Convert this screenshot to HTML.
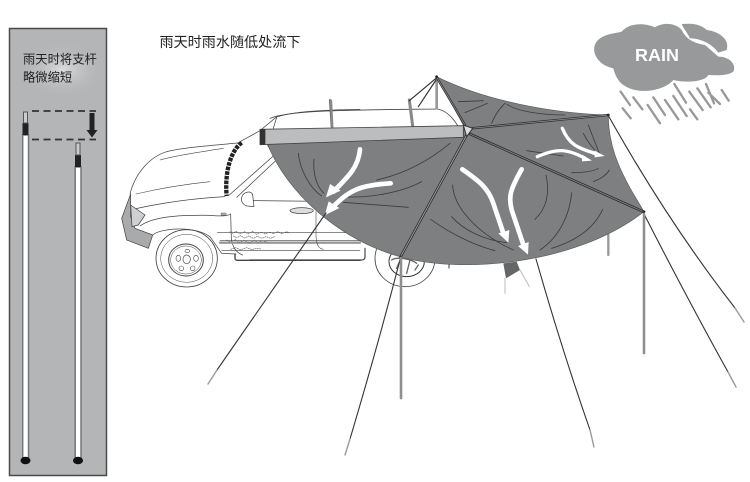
<!DOCTYPE html>
<html><head><meta charset="utf-8"><style>
html,body{margin:0;padding:0;background:#fff;width:750px;height:482px;overflow:hidden}
svg{display:block}
text{font-family:"Liberation Sans","Noto Sans CJK SC",sans-serif}
</style></head><body>
<svg width="750" height="482" viewBox="0 0 750 482" xmlns="http://www.w3.org/2000/svg">
<defs>
<radialGradient id="gl" cx="50%" cy="50%" r="50%"><stop offset="0" stop-color="#dcddde"/><stop offset="1" stop-color="#b4b5b7" stop-opacity="0"/></radialGradient>
</defs>
<!-- left panel -->
<rect x="9.500" y="28.500" width="97" height="447" fill="#b4b5b7" stroke="#4a4a4c" stroke-width="1.500"/>
<ellipse cx="62" cy="70" rx="44" ry="28" fill="url(#gl)"/>
<text x="23" y="63.500" font-size="12.300" fill="#222">雨天时将支杆</text>
<text x="23" y="81.500" font-size="12.300" fill="#222">略微缩短</text>
<path d="M32 111H96M32 139.500H96" stroke="#333" stroke-width="1.700" stroke-dasharray="7 4.500" fill="none"/>
<path d="M89.500 113h5v17h3l-5.500 7.500-5.500-7.500h3z" fill="#222"/>
<!-- poles -->
<rect x="22.700" y="135" width="5.800" height="326" fill="#fff" stroke="#777" stroke-width="1.500"/>
<rect x="22.500" y="123" width="6" height="12" fill="#222"/>
<rect x="23.500" y="112" width="4" height="11" fill="#ccc" stroke="#555" stroke-width="1"/>
<ellipse cx="25.500" cy="460.500" rx="5" ry="3.800" fill="#111"/>
<rect x="75.200" y="167" width="5.800" height="294" fill="#fff" stroke="#777" stroke-width="1.500"/>
<rect x="75" y="155" width="6" height="12" fill="#222"/>
<rect x="76" y="143" width="4" height="12" fill="#ccc" stroke="#555" stroke-width="1"/>
<ellipse cx="78" cy="460.500" rx="5" ry="3.800" fill="#111"/>
<!-- title -->
<text x="159.500" y="47" font-size="14.100" fill="#222">雨天时雨水随低处流下</text>

<!-- car -->
<g transform="translate(110,90) scale(.33333)" fill="none" stroke="#444" stroke-width="2.200" stroke-linecap="round" stroke-linejoin="round">
<path d="M60,312 C75,250 120,200 170,185 C230,170 330,165 392,158" />
<path d="M150,210 C200,195 280,185 340,175" stroke-width="1.800"/>
<path d="M78,312 C150,295 230,282 300,275" stroke-width="1.800"/>
<path d="M68,358 C150,340 250,325 345,320"/>
<path d="M62,312 L35,385 L50,450 L115,475 L128,435 L75,415 L62,380 Z" fill="#a9aaac"/>
<path d="M62,345 L105,375 L85,405 L66,410 Z" fill="#cfd0d1"/>
<path d="M90,408 C130,380 200,375 300,376 C330,378 350,380 362,372"/>
<path d="M128,435 C150,415 250,405 300,440 L335,490 L378,492"/>
<path d="M362,372 L364,445 C367,470 378,488 398,495"/>
<path d="M395,158 C365,180 343,240 350,318" stroke="#222" stroke-width="13" stroke-dasharray="11 3" stroke-linecap="butt"/>
<path d="M358,315 L490,198 M380,322 L495,214"/>
<path d="M390,155 L450,122 L498,82 C540,66 620,60 750,58"/>
<path d="M450,122 L490,198"/>
<path d="M500,82 L490,115"/>
<path d="M395,322 C400,305 425,300 428,315 L432,350 L412,348 C400,345 392,335 395,322Z" fill="#fff"/>
<path d="M430,332 L640,334"/>
<ellipse cx="575" cy="362" rx="35" ry="9" fill="#ddd"/>
<rect x="333" y="369" width="16" height="7" rx="2" fill="#aaa" stroke-width="1"/>
<path d="M322,428 H750 M330,452 H750 M335,482 H750" stroke-width="1.800"/>
<path d="M330,458 H750" stroke="#999" stroke-width="7"/>
<path d="M618,365 V440 C620,465 625,475 640,478" stroke-width="1.800"/>
<path d="M375,492 V505 Q375,511 385,511 H750" stroke-width="4"/>
<path d="M360,425 l8,5 l10,-6 l12,8 l14,-7 l10,7 l14,-8 l12,9 l14,-7 l12,6 l14,-6 l10,5 l14,-6 l12,6 l14,-6 l10,4 M370,438 l10,5 l12,-6 l12,7 l12,-6 l14,7 l12,-6 l14,6 l12,-5 l14,5 l12,-5 M350,450 l12,6 l14,-7 l12,8 l14,-6 l16,8 l14,-8 l12,6 l14,-5 l14,4 M362,478 l14,-5 l16,6 l18,-6 l16,6 l14,-4 l14,2" stroke-width="2" stroke="#666" stroke-dasharray="4 3"/>
<ellipse cx="230" cy="505" rx="92" ry="86" fill="#fff" stroke-width="2.500"/>
<ellipse cx="230" cy="505" rx="78" ry="72" stroke-width="1.500"/>
<ellipse cx="228" cy="510" rx="52" ry="48" stroke-width="3"/>
<ellipse cx="228" cy="510" rx="46" ry="42" stroke-width="1.500"/>
<ellipse cx="230" cy="508" rx="11" ry="13" stroke-width="2"/>
<ellipse cx="205" cy="505" rx="7" ry="9" stroke-width="1.800"/>
<ellipse cx="258" cy="505" rx="7" ry="9" stroke-width="1.800"/>
<ellipse cx="214" cy="535" rx="7" ry="7" stroke-width="1.800"/>
<ellipse cx="248" cy="535" rx="7" ry="7" stroke-width="1.800"/>
<ellipse cx="232" cy="483" rx="7" ry="5" stroke-width="1.800"/>
<path d="M660,30 L665,110" stroke="#666" stroke-width="6"/>
</g>

<!-- canopy and things behind it -->
<g transform="translate(250,60) scale(.33333)" stroke-linecap="round" stroke-linejoin="round" fill="none">
<!-- car continuation -->
<path d="M60,175 C120,150 300,150 560,147 C590,150 610,175 625,200" stroke="#444" stroke-width="2.500"/>
<path d="M478,120 L488,198" stroke="#888" stroke-width="9"/>
<path d="M243,122 L247,205" stroke="#888" stroke-width="7"/>
<path d="M560,50 V145" stroke="#999" stroke-width="8"/>
<path d="M558,55 L478,122 M558,60 L505,140" stroke="#333" stroke-width="3.500"/>
<path d="M1075,520 V585" stroke="#999" stroke-width="7"/>
<path d="M597,610 V624" stroke="#333" stroke-width="3"/>
<path d="M760,610 L768,655 L810,630 L800,605Z" fill="#666"/>
<path d="M765,655 V700 M810,630 L838,680" stroke="#bbb" stroke-width="3"/>
<path d="M345,565 V590 Q345,600 335,600 H0" stroke="#444" stroke-width="3.500"/>
<ellipse cx="465" cy="595" rx="90" ry="85" fill="#fff" stroke="#444" stroke-width="2.500"/>
<ellipse cx="470" cy="605" rx="53" ry="45" stroke="#333" stroke-width="3"/>
<path d="M425,600 C440,590 480,595 500,610 M440,625 L455,590 M470,640 L480,600 M495,630 L505,615" stroke="#666" stroke-width="4"/>
<!-- canopy -->
<path d="M52,250 C110,400 270,540 450,590 C620,640 970,620 1182,455 C1125,360 1075,280 1075,165 C900,160 700,120 560,50 L640,195 L640,232 Z" fill="#7e7f81" stroke="#5c5c5e" stroke-width="2"/>
<!-- ribs -->
<path d="M650,225 L452,590" stroke="#333" stroke-width="8"/>
<path d="M650,225 L452,590" stroke="#a5a5a7" stroke-width="2.500"/>
<path d="M660,222 L1180,455" stroke="#333" stroke-width="8"/>
<path d="M660,222 L1180,455" stroke="#9a9a9c" stroke-width="2"/>
<path d="M665,205 L1075,165" stroke="#333" stroke-width="7"/>
<path d="M665,205 L1075,165" stroke="#999" stroke-width="2"/>
<path d="M560,52 L645,195" stroke="#333" stroke-width="7"/>
<path d="M560,52 L645,195" stroke="#999" stroke-width="2"/>
<path d="M640,195 L668,205 L650,230Z" fill="#ddd" stroke="#333" stroke-width="3"/>
<!-- bar -->
<path d="M30,208 L640,197 L640,232 L30,254Z" fill="#bcbdbf" stroke="#444" stroke-width="2.500"/>
<rect x="30" y="208" width="16" height="46" fill="#333"/>
<!-- creases -->
<g stroke="#3c3c3e" stroke-width="2.500">
<path d="M145,280 C150,330 180,385 215,408"/>
<path d="M192,298 C188,340 200,380 222,400"/>
<path d="M600,250 C540,300 470,340 380,360"/>
<path d="M515,365 C450,400 350,415 280,410"/>
<path d="M280,427 L475,442"/>
<path d="M608,375 C610,440 680,520 790,570"/>
<path d="M605,470 C640,510 700,540 770,548"/>
<path d="M542,478 C600,520 670,555 735,572"/>
<path d="M888,345 C900,400 890,445 855,478"/>
<path d="M965,398 C960,460 930,530 870,570"/>
<path d="M1058,448 C1030,510 970,545 905,565"/>
<path d="M625,125 L700,122 M645,158 L712,130 M765,130 C745,150 735,165 725,190 M770,132 C800,155 880,165 945,165"/>
<path d="M1015,195 C1030,235 1040,260 1050,285 M1000,220 C1010,240 1020,255 1035,270"/>
<path d="M830,272 L940,288"/>
<path d="M965,338 C1000,338 1030,335 1045,325 M1030,365 C1050,358 1070,345 1078,330"/>
</g>
<!-- white arrows -->
<g stroke="#fff" stroke-width="14">
<path d="M330,268 C325,320 300,345 250,395"/>
<path d="M422,370 C340,375 300,385 245,445"/>
<path d="M637,328 C690,365 715,385 730,430 L762,525"/>
<path d="M815,328 C780,390 775,410 785,450 L822,560"/>
<path d="M937,205 C960,260 990,265 1040,282" stroke-width="10"/>
<path d="M862,290 C920,265 950,265 1005,295" stroke-width="10"/>
</g>
<g fill="#fff">
<path d="M228,412 L272,392 L240,372Z"/>
<path d="M224,466 L268,444 L236,424Z"/>
<path d="M775,548 L745,520 L778,510Z"/>
<path d="M834,584 L804,558 L836,546Z"/>
<path d="M1064,288 L1034,272 L1034,292Z"/>
<path d="M1026,302 L996,284 L996,304Z"/>
</g>
<!-- corner points -->
<circle cx="560" cy="50" r="4" fill="#222"/>
<circle cx="1075" cy="165" r="4" fill="#222"/>
<circle cx="1182" cy="455" r="4" fill="#222"/>
<circle cx="452" cy="592" r="4" fill="#222"/>
</g>

<!-- guy lines -->
<g fill="none" stroke-linecap="round">
<path d="M326,213 Q262,305 217,370" stroke="#333" stroke-width="1.100"/>
<path d="M217,370 L208,384" stroke="#999" stroke-width="1.400"/>
<path d="M401,256 Q378,345 350,439" stroke="#333" stroke-width="1.100"/>
<path d="M350,439 L345,455" stroke="#999" stroke-width="1.400"/>
<path d="M536,259 Q562,350 590,430" stroke="#333" stroke-width="1.100"/>
<path d="M590,430 L594,447" stroke="#999" stroke-width="1.400"/>
<path d="M643,212 Q688,300 728,372" stroke="#333" stroke-width="1.100"/>
<path d="M728,372 L736,387" stroke="#999" stroke-width="1.400"/>
<path d="M608,115 Q668,222 735,308" stroke="#333" stroke-width="1.100"/>
<path d="M735,308 L744,322" stroke="#999" stroke-width="1.400"/>
<path d="M401,258 V398" stroke="#8f8f91" stroke-width="2.600"/>
<path d="M644,214 V353" stroke="#8f8f91" stroke-width="2.600"/>
</g>

<!-- cloud -->
<g transform="translate(580,10) scale(.33333)">
<path d="M100,175 C50,165 30,120 50,95 C70,70 110,70 125,65 C150,35 200,40 225,52 C250,35 290,40 305,60 C320,90 345,100 375,105 L415,140 C450,140 470,165 460,185 C440,200 400,195 385,195 C375,215 320,220 280,210 C250,245 170,255 130,225 C115,215 105,195 100,175Z" fill="#98999b"/>
<path d="M305,42 C330,40 360,40 380,60 C420,65 450,90 440,120 L415,128 C395,100 360,85 330,85 C320,65 310,55 305,42Z" fill="#98999b"/>
<text x="165" y="153" font-size="54" font-weight="bold" fill="#fff">RAIN</text>
<path d="M122,245L150,285M160,262L187,298M128,295L152,325M203,285L240,340M220,262L255,315M255,270L295,328M280,258L320,318M283,222L318,278M328,245L368,300M330,298L352,328M352,235L392,292M378,222L402,280M385,248L420,282M425,240L446,272" stroke="#98999b" stroke-width="7" stroke-linecap="round" fill="none"/>
</g>
</svg>
</body></html>
